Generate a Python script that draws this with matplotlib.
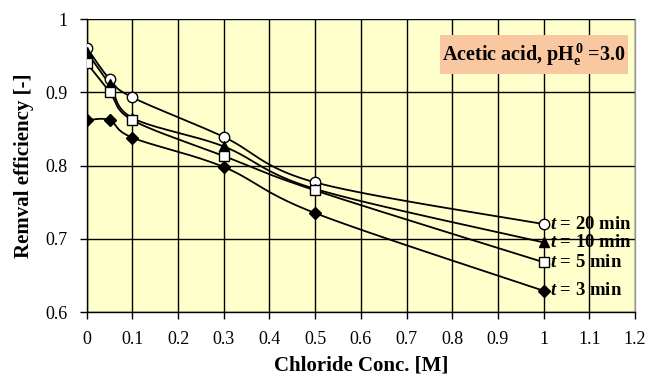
import numpy as np
import matplotlib
matplotlib.use("Agg")
import matplotlib.pyplot as plt
from matplotlib.patches import Rectangle

plt.rcParams['font.family'] = ['Liberation Serif', 'DejaVu Serif']
plt.rcParams['mathtext.fontset'] = 'custom'
plt.rcParams['mathtext.rm'] = 'Liberation Serif:bold'
plt.rcParams['mathtext.it'] = 'Liberation Serif:italic:bold'
plt.rcParams['mathtext.bf'] = 'Liberation Serif:bold'

# chloride concentration [M]
conc = [0, 0.05, 0.1, 0.3, 0.5, 1.0]

eff_20 = [0.961, 0.918, 0.893, 0.839, 0.777, 0.720]
eff_10 = [0.955, 0.911, 0.865, 0.826, 0.768, 0.695]
eff_5 = [0.940, 0.901, 0.862, 0.813, 0.766, 0.668]
eff_3 = [0.862, 0.862, 0.838, 0.798, 0.735, 0.629]

series = [
    (eff_20, 'o', 'white', r'$t$ = 20 min'),
    (eff_10, '^', 'black', r'$t$ = 10 min'),
    (eff_5, 's', 'white', r'$t$ = 5 min'),
    (eff_3, 'D', 'black', r'$t$ = 3 min'),
]

xticks = [0, 0.1, 0.2, 0.3, 0.4, 0.5, 0.6, 0.7, 0.8, 0.9, 1.0, 1.1, 1.2]
xticklabels = ['0', '0.1', '0.2', '0.3', '0.4', '0.5', '0.6', '0.7', '0.8', '0.9', '1', '1.1', '1.2']
yticks = [0.6, 0.7, 0.8, 0.9, 1.0]
yticklabels = ['0.6', '0.7', '0.8', '0.9', '1']


def smooth(x, y, n=40):
    # Catmull-Rom style curve through the points, like a spreadsheet "smoothed line"
    x = np.asarray(x, float)
    y = np.asarray(y, float)
    px = np.concatenate([[x[0]], x, [x[-1]]])
    py = np.concatenate([[y[0]], y, [y[-1]]])
    xs, ys = [], []
    for i in range(1, len(px) - 2):
        p0, p1, p2, p3 = (np.array([px[j], py[j]]) for j in range(i - 1, i + 3))
        c1 = p1 + (p2 - p0) / 6
        c2 = p2 - (p3 - p1) / 6
        t = np.linspace(0, 1, n)[:, None]
        b = ((1 - t) ** 3) * p1 + 3 * ((1 - t) ** 2) * t * c1 + 3 * (1 - t) * t ** 2 * c2 + t ** 3 * p2
        xs.append(b[:, 0])
        ys.append(b[:, 1])
    return np.concatenate(xs), np.concatenate(ys)


fig = plt.figure(figsize=(6.46, 3.80), dpi=100)
ax = fig.add_axes([0.1342, 0.1789, 0.8488, 0.7711])
ax.set_facecolor('#FFFFCC')

for vals, mk, fc, lab in series:
    sx, sy = smooth(conc, vals)
    ax.plot(sx, sy, color='black', lw=1.3, zorder=3)
    ax.plot(conc, vals, ls='none', marker=mk, markersize=7.5 if mk != 'D' else 6.5,
            markerfacecolor=fc, markeredgecolor='black', markeredgewidth=1, zorder=4)
    ax.text(conc[-1] + 0.013, vals[-1], lab, fontsize=13.5, fontweight='bold',
            va='center', ha='left', zorder=5)

ax.set_xlim(0, 1.2)
ax.set_ylim(0.6, 1.0)
ax.set_xticks(xticks)
ax.set_xticklabels(xticklabels)
ax.set_yticks(yticks)
ax.set_yticklabels(yticklabels)
ax.grid(True, color='black', lw=1)
ax.set_axisbelow(True)
ax.tick_params(direction='out', length=5, width=1, labelsize=13)
ax.tick_params(axis='x', pad=9)
ax.tick_params(axis='y', pad=9)
for s in ax.spines.values():
    s.set_linewidth(1)
ax.spines['top'].set_visible(False)
ax.spines['right'].set_color('#999999')

ax.set_xlabel('Chloride Conc. [M]', fontsize=15, fontweight='bold', labelpad=5)
ax.set_ylabel('Remval efficiency [-]', fontsize=15, fontweight='bold', labelpad=8)

# annotation box with the acid / initial pH
ax.add_patch(Rectangle((0.773, 0.925), 0.411, 0.053, facecolor='#FAC8A0',
                       edgecolor='none', zorder=5))
ax.text(0.9785, 0.9505, r'Acetic acid, pH$_\mathrm{e}^{\,\mathrm{0}}$ =3.0',
        fontsize=14.5, fontweight='bold', ha='center', va='center', zorder=6)

fig.savefig('out.png', dpi=100)
